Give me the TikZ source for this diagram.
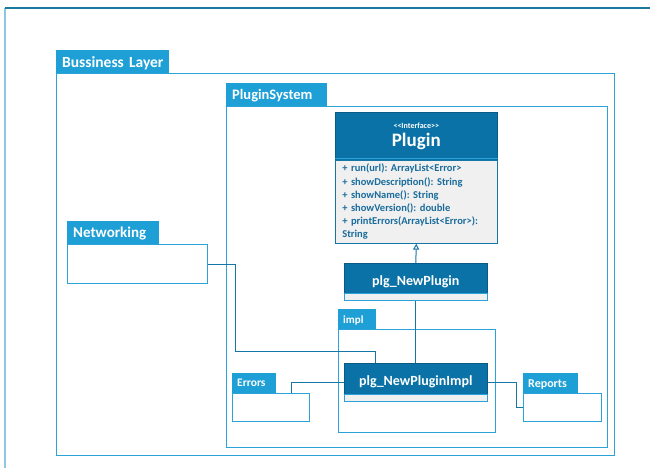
\documentclass[tikz,border=0pt]{standalone}
\usepackage{fontspec}
\setmainfont{Carlito}
\usepackage{tikz}
\usetikzlibrary{arrows.meta,positioning,calc}
\definecolor{tabblue}{HTML}{1E9FD5}
\definecolor{lineblue}{HTML}{2BA3D8}
\definecolor{headblue}{HTML}{0A72A6}
\definecolor{linkblue}{HTML}{1677A6}
\definecolor{textblue}{HTML}{1A6C9C}
\tikzstyle{pkgtab}=[anchor=north west, fill=tabblue, draw=tabblue, text=white,% package tab
font=\bfseries, inner sep=0pt, inner xsep=6pt, align=left, text depth=0pt]
\tikzstyle{pkgbody}=[anchor=north west, draw=lineblue, line width=1pt, fill=white, inner sep=0pt]
\tikzstyle{clshead}=[anchor=north west, fill=headblue, draw=headblue!80!black, text=white,% class header
font=\bfseries, inner sep=0pt, line width=0.6pt]
\tikzstyle{clsstrip}=[anchor=south west, fill=gray!12, draw=lineblue, inner sep=0pt, line width=0.6pt]
\tikzstyle{link}=[draw=linkblue, line width=1pt]

\begin{document}
\frenchspacing
\begin{tikzpicture}[x=1pt,y=-1pt]
\useasboundingbox (0,0) rectangle (650,468);
\draw[draw={rgb,255:red,140;green,200;blue,224}, line width=1.2pt] (5,468) -- (5,8);
\draw[draw={rgb,255:red,26;green,122;blue,158}, line width=1.2pt] (5,8) -- (650,8);

% Bussiness Layer
\node[pkgtab, text width=100pt, minimum height=23pt, font=\bfseries\fontsize{15.5}{17}\selectfont] (BLtab) at (56,50) {\mbox{Bussiness Layer}};
\node[pkgbody, minimum width=558pt, minimum height=382pt] (BLbody) at (56,73) {};

% PluginSystem
\node[pkgtab, text width=88pt, minimum height=23pt, font=\bfseries\fontsize{14.5}{16}\selectfont] (PStab) at (226,83) {\mbox{PluginSystem}};
\node[pkgbody, minimum width=381pt, minimum height=341pt] (PSbody) at (226,106) {};

% Plugin interface
\node[clshead, minimum width=162pt, minimum height=48pt, align=center] (PlgHead) at (335,112)
  {{\fontsize{8}{9}\selectfont <{}<Interface>{}>}\\[3pt]{\fontsize{19}{20}\selectfont Plugin}};
\node[anchor=north west, fill=gray!12, draw=linkblue, line width=0.6pt, minimum width=162pt,
  minimum height=83pt, text width=148pt, inner xsep=7pt, inner ysep=3.5pt, align=left, text=textblue,
  font=\bfseries\fontsize{10.5}{13.2}\selectfont] (PlgBody) at (335,160)
  {+ run(url): ArrayList<Error>\\
   + showDescription(): String\\
   + showName(): String\\
   + showVersion(): double\\
   + printErrors(ArrayList<Error>):\\
   String};
\draw[lineblue, line width=0.5pt] ([yshift=2pt]PlgBody.north west) -- ([yshift=2pt]PlgBody.north east);

% plg_NewPlugin
\node[clshead, minimum width=143pt, minimum height=37pt, font=\bfseries\fontsize{14}{16}\selectfont] (NewPlg) at (344,263) {\raisebox{3pt}{plg\_NewPlugin}};
\node[clsstrip, minimum width=143pt, minimum height=7pt] (NewPlgStrip) at (NewPlg.south west) {};

% impl package
\node[pkgtab, text width=27pt, minimum height=20pt, inner xsep=5pt, font=\bfseries\fontsize{11}{13}\selectfont] (ImplTab) at (338,309) {\mbox{impl}};
\node[pkgbody, minimum width=157pt, minimum height=103pt] (ImplBody) at (338,329) {};

% plg_NewPluginImpl
\node[clshead, minimum width=143pt, minimum height=38pt, font=\bfseries\fontsize{14}{16}\selectfont] (ImplCls) at (344,363) {\raisebox{3pt}{plg\_NewPluginImpl}};
\node[clsstrip, minimum width=143pt, minimum height=7pt] (ImplStrip) at (ImplCls.south west) {};

% Networking
\node[pkgtab, text width=79pt, minimum height=23pt, font=\bfseries\fontsize{15}{17}\selectfont] (NWtab) at (67,221) {\mbox{Networking}};
\node[pkgbody, minimum width=140pt, minimum height=39pt] (NWbody) at (67,244) {};

% Errors
\node[pkgtab, text width=33pt, minimum height=20pt, inner xsep=5pt, font=\bfseries\fontsize{11.5}{13}\selectfont] (ErrTab) at (232,373) {\mbox{Errors}};
\node[pkgbody, minimum width=77pt, minimum height=28pt] (ErrBody) at (232,393) {};

% Reports
\node[pkgtab, text width=44pt, minimum height=20pt, inner xsep=5pt, font=\bfseries\fontsize{12}{13}\selectfont] (RepTab) at (523,373) {\mbox{Reports}};
\node[pkgbody, minimum width=78pt, minimum height=28pt] (RepBody) at (523,393) {};

% connectors
\draw[link, -{Triangle[open,fill=white,length=6pt,width=6pt]}] (NewPlg.north) -- (PlgBody.south);
\draw[link] (NewPlgStrip.south) -- (ImplCls.north);
\draw[link] (NWbody.east) -- ++(27,0) -- ++(0,87) -| ([xshift=31pt]ImplCls.north west);
\draw[link] (ImplCls.west) -| ([xshift=20pt]ErrBody.north);
\draw[link] (ImplCls.east) -- ++(29,0) |- (RepBody.west);
\end{tikzpicture}
\end{document}
